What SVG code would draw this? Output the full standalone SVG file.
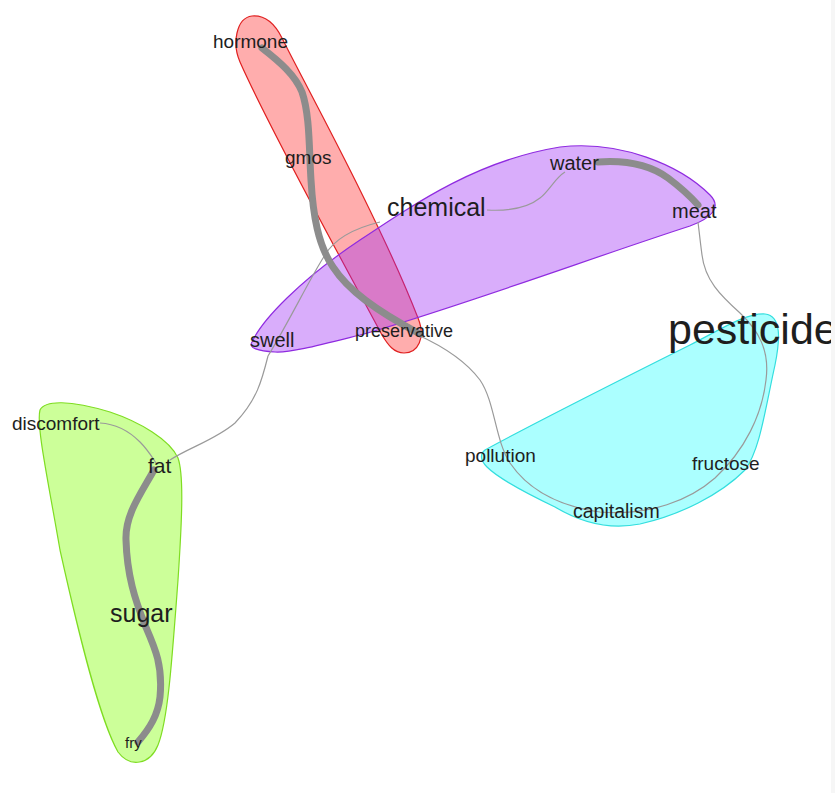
<svg xmlns="http://www.w3.org/2000/svg" width="835" height="793" viewBox="0 0 835 793">
<style>
.lbl{font-family:"Liberation Sans",Arial,sans-serif;fill:#1e1e1e}
.thin{fill:none;stroke:#9a9a9a;stroke-width:1.2}
.thick{fill:none;stroke:#8c8c8c;stroke-width:7;stroke-linecap:round}
</style>
<defs>
<clipPath id="page"><rect x="0" y="0" width="831" height="793"/></clipPath>
</defs>
<rect width="835" height="793" fill="#ffffff"/>
<rect x="831" y="0" width="4" height="793" fill="#f6f6f6"/>
<g clip-path="url(#page)">
<g id="groups">
<path id="group-green" d="M 40 410 C 45 400, 70 400, 110 412 C 140 422, 170 440, 178 458 C 184 475, 182 520, 178 580 C 172 660, 168 720, 158 745 C 150 765, 130 768, 118 752 C 100 720, 80 640, 60 550 C 48 480, 36 425, 40 410 Z" fill="rgb(127,255,0)" fill-opacity="0.4" stroke="#7fdd22" stroke-width="1.2"/>
<path id="group-cyan" d="M 485 450 C 540 420, 620 380, 690 345 C 720 330, 745 313, 765 314 C 782 316, 780 340, 775 365 C 765 410, 760 450, 745 470 C 720 495, 680 515, 640 524 C 610 530, 580 522, 555 507 C 530 495, 500 480, 487 467 C 480 460, 480 454, 485 450 Z" fill="rgb(0,255,255)" fill-opacity="0.33" stroke="#33dede" stroke-width="1.2"/>
<path id="group-red" d="M 252 16 C 264 15, 274 22, 282 38 C 300 75, 380 220, 418 318 C 426 338, 418 353, 404 353 C 394 353, 388 345, 382 335 C 350 275, 270 130, 240 62 C 232 44, 236 18, 252 16 Z" fill="rgb(255,0,0)" fill-opacity="0.32" stroke="#e02020" stroke-width="1.2"/>
<path id="group-purple" d="M 252 342 C 262 320, 300 280, 360 240 C 420 200, 480 160, 560 147 C 620 140, 680 165, 710 195 C 722 207, 712 218, 690 226 C 600 255, 450 310, 360 335 C 320 345, 290 353, 275 352 C 258 351, 248 348, 252 342 Z" fill="rgb(155,40,245)" fill-opacity="0.38" stroke="#8f2be0" stroke-width="1.2"/>
</g>
<g id="connectors">
<path class="thin" d="M 487 210 C 505 211, 525 210, 540 198 C 550 190, 555 178, 565 172"/>
<path class="thin" d="M 380 222 C 355 228, 335 238, 325 255 C 310 278, 290 320, 268 356"/>
<path class="thin" d="M 268 356 C 262 380, 257 400, 235 423 C 215 440, 190 447, 170 460"/>
<path class="thin" d="M 100 423 C 118 424, 130 432, 140 442 C 148 450, 152 457, 156 463"/>
<path class="thin" d="M 418 335 C 440 345, 465 360, 480 380 C 495 402, 495 440, 510 463 C 525 485, 550 505, 600 512 C 650 516, 690 500, 715 478 C 745 450, 762 415, 766 380 C 770 350, 758 330, 740 313 C 720 295, 705 280, 702 255 C 700 240, 699 230, 698 222"/>
<path class="thick" d="M 262 48 C 280 62, 295 75, 302 92 C 310 115, 309 150, 311 180 C 313 215, 318 245, 333 267 C 348 290, 375 310, 420 334"/>
<path class="thick" d="M 598 162 C 625 160, 650 165, 668 178 C 680 187, 690 196, 698 205"/>
<path class="thick" d="M 154 470 C 140 495, 125 515, 126 540 C 127 575, 135 600, 145 625 C 155 648, 163 665, 160 697 C 158 715, 150 728, 138 742"/>
</g>
<g id="node-hormone"><text class="lbl" x="213" y="48" font-size="19">hormone</text></g>
<g id="node-gmos"><text class="lbl" x="285" y="164" font-size="19">gmos</text></g>
<g id="node-chemical"><text class="lbl" x="387" y="216" font-size="25">chemical</text></g>
<g id="node-water"><text class="lbl" x="550" y="170" font-size="20">water</text></g>
<g id="node-meat"><text class="lbl" x="672" y="218" font-size="20">meat</text></g>
<g id="node-swell"><text class="lbl" x="250" y="347" font-size="20">swell</text></g>
<g id="node-preservative"><text class="lbl" x="355" y="337" font-size="18">preservative</text></g>
<g id="node-pesticide"><text class="lbl" x="668" y="344" font-size="43">pesticide</text></g>
<g id="node-discomfort"><text class="lbl" x="12" y="430" font-size="19">discomfort</text></g>
<g id="node-fat"><text class="lbl" x="148" y="473" font-size="21">fat</text></g>
<g id="node-sugar"><text class="lbl" x="110" y="622" font-size="25">sugar</text></g>
<g id="node-fry"><text class="lbl" x="125" y="748" font-size="15">fry</text></g>
<g id="node-pollution"><text class="lbl" x="465" y="462" font-size="19">pollution</text></g>
<g id="node-fructose"><text class="lbl" x="692" y="470" font-size="19">fructose</text></g>
<g id="node-capitalism"><text class="lbl" x="573" y="518" font-size="19.5">capitalism</text></g>
</g>
</svg>
